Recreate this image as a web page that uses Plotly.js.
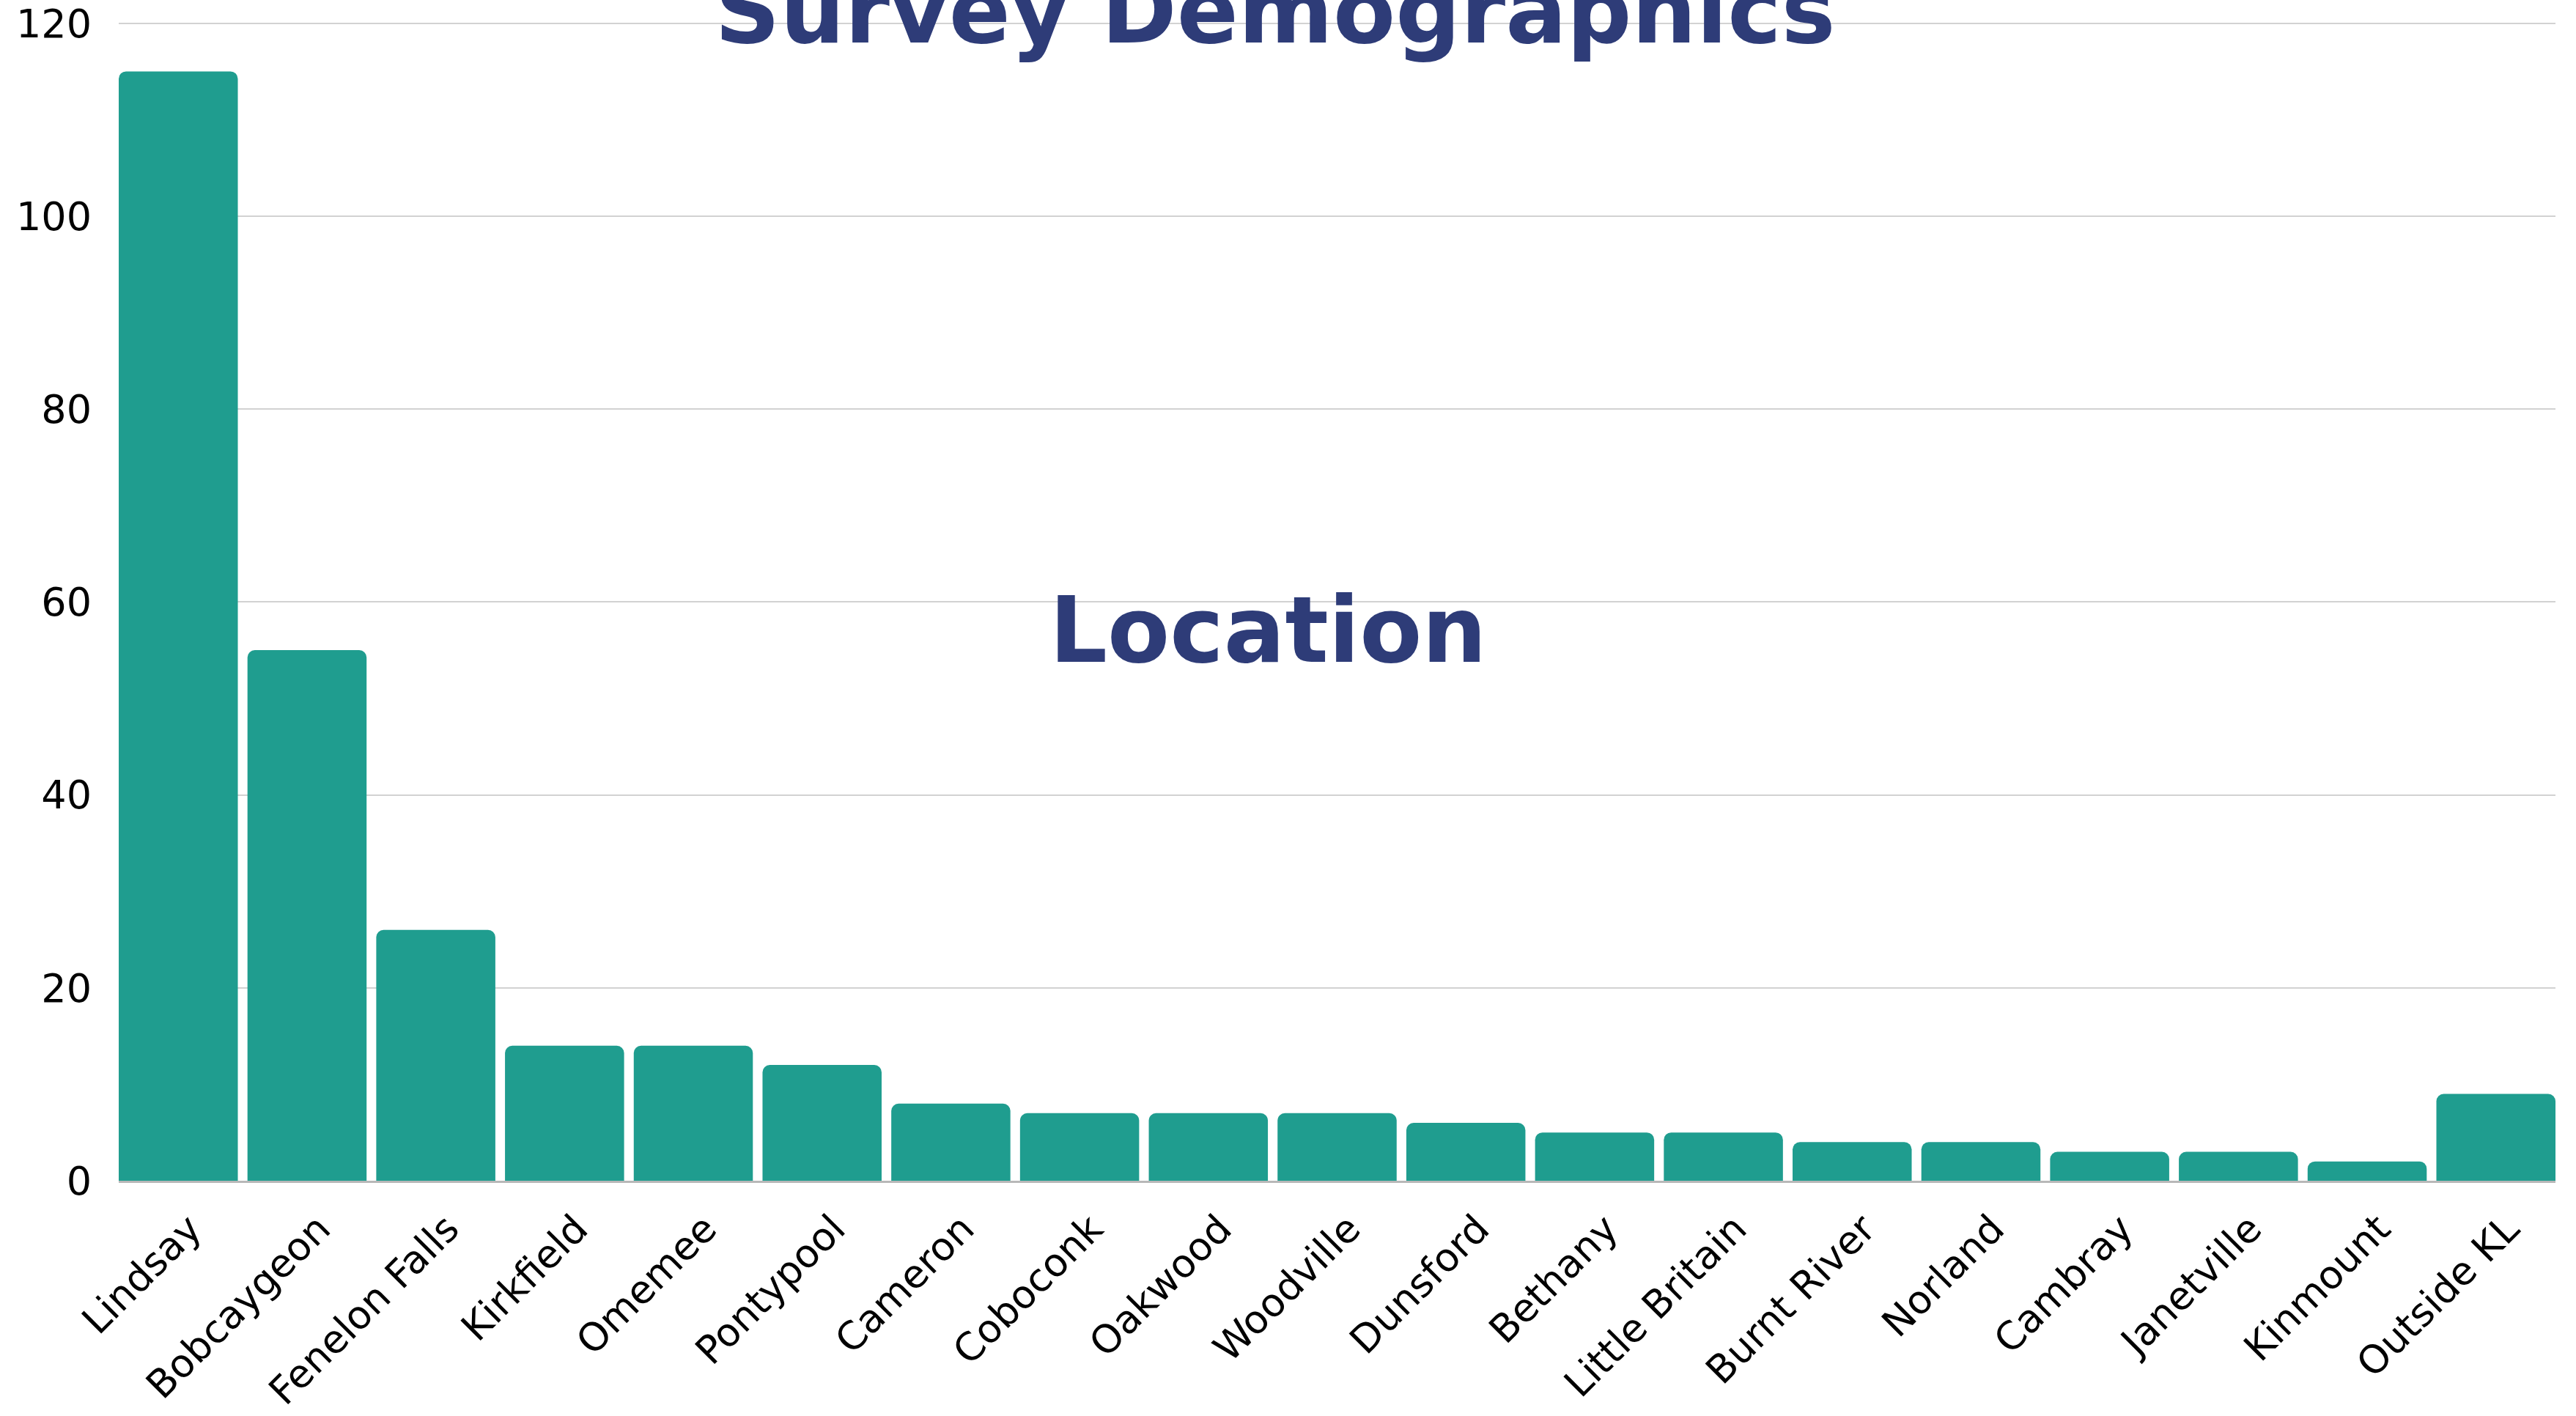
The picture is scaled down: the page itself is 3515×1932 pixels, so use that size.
<!DOCTYPE html>
<html>
<head>
<meta charset="utf-8">
<script src="https://cdn.plot.ly/plotly-3.0.1.min.js"></script>
<style>html,body{margin:0;padding:0;background:#fff;}#chart{width:3515px;height:1932px;}</style>
</head>
<body>
<div id="chart"></div>
<script>
const locations = ["Lindsay","Bobcaygeon","Fenelon Falls","Kirkfield","Omemee","Pontypool","Cameron","Coboconk","Oakwood","Woodville","Dunsford","Bethany","Little Britain","Burnt River","Norland","Cambray","Janetville","Kinmount","Outside KL"];
const counts = [115,55,26,14,14,12,8,7,7,7,6,5,5,4,4,3,3,2,9];
const titleText = "Survey Demographics";
const subtitleText = "Location";
const yTicks = [0,20,40,60,80,100,120];

const navy = "#2E3C78";
const teal = "#1F9D8F";

const data = [{
  type: "bar",
  x: locations,
  y: counts,
  marker: {color: teal, cornerradius: 10, line: {width: 0}},
  hoverinfo: "x+y"
}];

const layout = {
  width: 3515,
  height: 1932,
  margin: {l: 162, r: 28, t: 29, b: 321, pad: 0},
  paper_bgcolor: "#ffffff",
  plot_bgcolor: "#ffffff",
  bargap: 0.075,
  showlegend: false,
  font: {family: "DejaVu Sans, sans-serif", color: "#000000"},
  title: {
    text: titleText,
    font: {family: "DejaVu Sans, sans-serif", size: 124, color: navy, weight: "bold"},
    xref: "container", yref: "container",
    x: 0.495, xanchor: "center",
    y: 1 - 58/1932, yanchor: "bottom"
  },
  xaxis: {
    type: "category",
    range: [-0.4625, 18.4625],
    tickangle: -45,
    tickfont: {size: 53, color: "#000000"},
    showgrid: false,
    showline: true,
    linecolor: "#b8b8b8",
    linewidth: 3,
    ticks: "",
    ticklabelstandoff: 10,
    ticklabelshift: 16,
    ticklabeloverflow: "allow",
    zeroline: false
  },
  yaxis: {
    range: [0, 120.2],
    tickvals: yTicks,
    ticktext: yTicks.map(String),
    tickfont: {size: 54, color: "#000000"},
    showgrid: true,
    gridcolor: "#d2d2d2",
    gridwidth: 2,
    zeroline: false,
    showline: false,
    ticks: "",
    ticklabelstandoff: 36,
    ticklabeloverflow: "allow"
  },
  annotations: [{
    text: subtitleText,
    xref: "paper", yref: "paper",
    x: 0.4716, y: 0.475,
    xanchor: "center", yanchor: "middle",
    showarrow: false,
    font: {family: "DejaVu Sans, sans-serif", size: 124, color: navy, weight: "bold"}
  }]
};

Plotly.newPlot("chart", data, layout, {displayModeBar: false, staticPlot: true});
</script>
</body>
</html>
